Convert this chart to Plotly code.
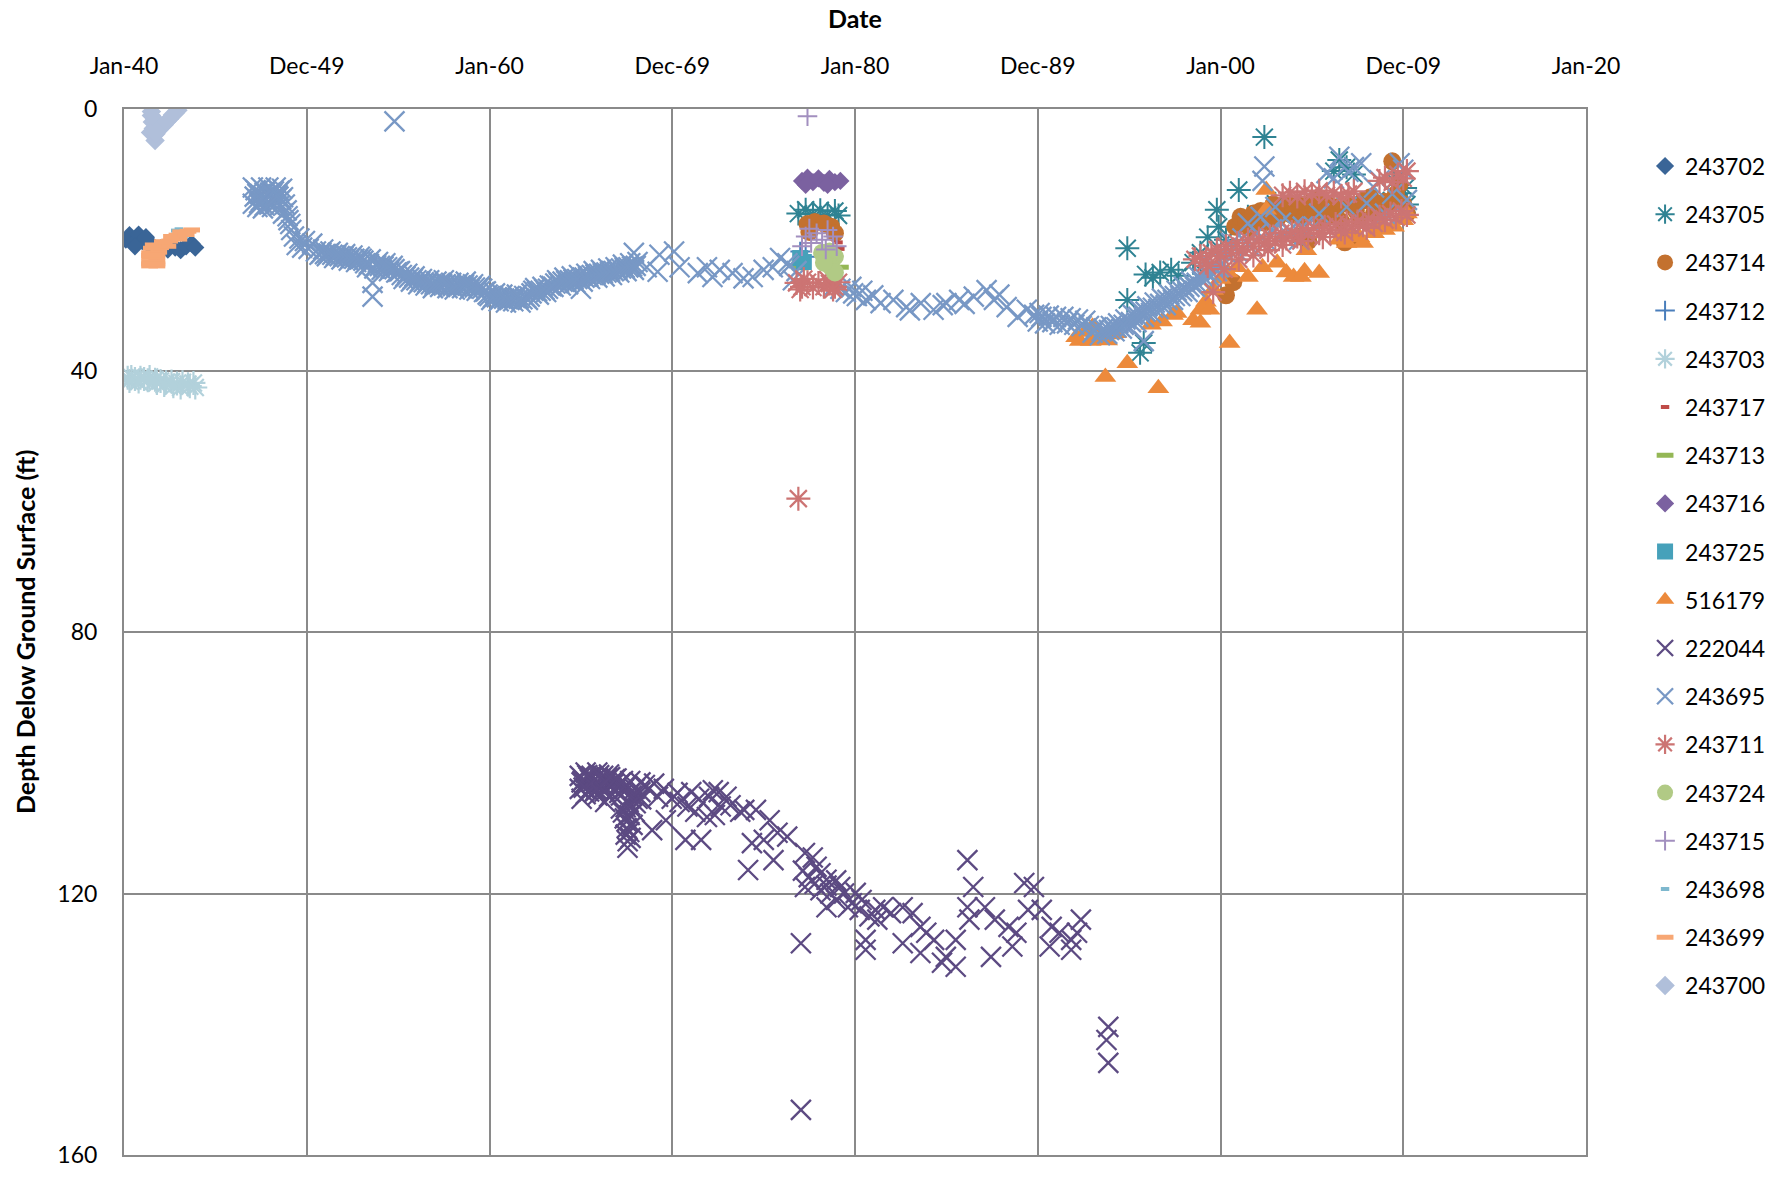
import pandas as pd
import plotly.graph_objects as go

# ---- Axis ticks (date axis, labels every 3652.5 days from Jan 1940) ----
tick_labels = ["Jan-40", "Dec-49", "Jan-60", "Dec-69", "Jan-80", "Dec-89", "Jan-00", "Dec-09", "Jan-20"]
depth_ticks = [0, 40, 80, 120, 160]

# ---- Well observations: decimal year of measurement, depth below ground (ft) ----
w243702_yr = [1940.1, 1940.3, 1940.5, 1940.8, 1941.0, 1941.3, 1941.6, 1942.0, 1942.4, 1942.8, 1943.1, 1943.4, 1943.7, 1943.9, 1940.6, 1941.2]
w243702_ft = [20.0, 19.3, 20.5, 19.2, 20.2, 20.6, 21.0, 21.3, 21.5, 21.2, 21.6, 21.0, 20.6, 21.2, 21.0, 19.6]

w243705_yr = [1976.9, 1977.3, 1977.7, 1978.1, 1978.5, 1978.9, 1979.1,
              1994.9, 1994.9, 1995.6, 1995.8, 1995.9, 1996.3, 1996.7, 1997.3, 1997.7, 1998.5, 1998.9, 1999.3, 1999.8, 1999.9,
              2000.3, 2001.0, 2001.5, 2002.4, 2003.0, 2006.2, 2006.5, 2006.9, 2007.3, 2008.5, 2009.5, 2009.8, 2010.1, 2010.2]
w243705_ft = [16.0, 15.4, 16.1, 15.5, 16.2, 15.6, 16.3,
              21.3, 29.2, 37.3, 35.8, 25.3, 25.8, 25.0, 24.6, 25.5, 23.5, 22.0, 19.6, 15.4, 18.0,
              20.0, 12.4, 16.5, 4.3, 14.5, 9.5, 7.8, 8.9, 10.0, 14.0, 11.0, 12.9, 12.1, 14.6]

w243714_yr = [1977.4, 1977.8, 1978.3, 1978.7, 1978.9, 1977.5,
              2000.3, 2000.7, 2000.8, 2001.1, 2001.4, 2001.8, 2002.2, 2002.6, 2002.9, 2003.3, 2003.7, 2004.0, 2004.4,
              2004.3, 2004.8, 2005.0, 2005.4, 2005.8, 2006.1, 2006.4, 2006.8, 2007.2, 2007.0, 2007.4, 2007.8, 2008.2,
              2008.6, 2009.0, 2009.4, 2009.6, 2010.0, 2010.2, 2009.8,
              2001.6, 2002.4, 2003.1, 2003.9, 2004.6, 2005.2, 2005.6, 2006.0, 2006.6, 2007.6, 2008.4, 2008.9, 2009.3]
w243714_ft = [17.6, 17.3, 17.5, 18.0, 19.0, 18.8,
              28.5, 26.5, 18.0, 16.5, 17.2, 16.0, 15.6, 16.5, 14.6, 15.3, 14.6, 15.5, 14.8,
              19.5, 20.2, 14.2, 13.6, 14.5, 15.6, 15.0, 20.4, 19.8, 14.5, 15.5, 14.0, 13.5,
              15.2, 14.2, 8.0, 13.0, 14.5, 16.0, 11.5,
              18.2, 17.4, 16.8, 16.2, 16.6, 15.8, 17.0, 16.4, 17.2, 16.8, 16.0, 15.6, 14.6]

w243712_yr = [1977.0, 1977.3]
w243712_ft = [21.8, 22.6]

w243703_yr = [1940.2, 1940.4, 1940.6, 1940.9, 1941.1, 1941.4, 1941.7, 1942.0, 1942.3, 1942.6, 1942.9, 1943.2, 1943.5, 1943.8,
              1940.3, 1940.8, 1941.3, 1941.8, 1942.2, 1942.7, 1943.1, 1943.6, 1943.9]
w243703_ft = [41.1, 41.0, 41.3, 41.1, 41.3, 41.0, 41.4, 41.6, 41.8, 41.7, 42.0, 41.8, 42.1, 41.9,
              41.6, 41.7, 41.5, 41.9, 42.2, 42.4, 42.6, 42.4, 42.6]

w243717_yr = [1979.1, 1979.2]
w243717_ft = [20.4, 21.4]

w243713_yr = [1977.0, 1977.0, 1979.2]
w243713_ft = [23.6, 24.3, 24.2]

w243716_yr = [1977.1, 1977.4, 1977.7, 1978.0, 1978.3, 1978.6, 1978.9, 1979.2, 1977.3, 1978.5]
w243716_ft = [11.0, 10.5, 11.2, 10.6, 11.3, 10.7, 11.2, 11.0, 11.6, 11.6]

w243725_yr = [1977.0, 1977.2]
w243725_ft = [22.8, 23.4]

w516179_yr = [1992.1, 1992.3, 1992.6, 1992.9, 1993.0, 1993.4, 1993.7, 1993.8, 1994.0, 1994.3, 1994.9, 1996.2, 1996.6, 1996.8,
              1997.4, 1997.6, 1998.5, 1998.9, 1998.9, 1999.2, 1999.4, 1999.6, 2000.0, 2000.4, 2000.5, 2000.9, 2001.5,
              2002.0, 2002.3, 2002.5, 2002.5, 2003.1, 2003.6, 2004.0, 2004.4, 2004.6, 2004.7, 2005.4,
              2006.5, 2006.9, 2007.2, 2007.6, 2007.8, 2008.4, 2008.7, 2009.0, 2009.5, 2010.0, 2010.2]
w516179_ft = [34.9, 35.5, 34.1, 35.5, 33.3, 35.0, 41.0, 35.4, 34.5, 34.3, 38.9, 33.0, 42.7, 32.5,
              31.5, 31.2, 32.3, 30.7, 32.7, 29.5, 30.7, 27.7, 26.0, 25.0, 35.8, 24.2, 25.7,
              30.7, 24.2, 12.4, 15.4, 23.5, 25.0, 25.7, 25.7, 24.8, 21.6, 25.1,
              20.0, 20.5, 19.5, 19.6, 20.5, 19.0, 18.0, 18.5, 18.0, 17.0, 16.0]

w222044_yr = [1964.94, 1964.94, 1965.26, 1965.26, 1965.26, 1965.58, 1965.58, 1965.90, 1965.90, 1965.90, 1966.22, 1966.22,
              1966.54, 1966.54, 1966.54, 1966.86, 1966.86, 1967.19, 1967.19, 1967.19, 1967.40, 1967.51, 1967.72, 1967.61,
              1967.94, 1967.94, 1967.83, 1968.26, 1968.26, 1967.51, 1965.04, 1966.33,
              1965.04, 1965.42, 1965.74, 1966.06, 1966.38, 1966.70, 1967.03, 1967.35, 1967.67, 1967.56, 1967.78, 1968.10,
              1968.69, 1969.01, 1969.54, 1969.97, 1970.40, 1971.04, 1971.47, 1972.01, 1972.54, 1973.19, 1973.72, 1971.26,
              1972.33,
              1969.22, 1970.29, 1970.83, 1970.72, 1971.58, 1972.22, 1972.65, 1971.90, 1969.65, 1968.90, 1972.97, 1973.94,
              1974.58, 1975.33, 1974.36, 1975.01, 1975.76, 1976.29, 1975.54, 1974.15, 1977.26, 1977.90, 1978.11, 1978.44,
              1979.19, 1980.04, 1977.26, 1978.44, 1979.61, 1980.36, 1980.58, 1980.58, 1981.22, 1981.54, 1981.97, 1982.61,
              1982.61, 1983.15, 1983.58, 1983.90, 1983.58, 1984.33, 1984.97, 1985.51, 1984.76, 1985.51, 1986.26, 1986.15,
              1986.47, 1986.15, 1987.11, 1987.44, 1987.65, 1988.40, 1988.83, 1988.61, 1989.26, 1989.79, 1989.47, 1990.22,
              1990.76, 1991.19, 1991.83, 1992.36, 1992.15, 1990.65, 1991.83, 1993.86, 1993.76, 1993.86, 1977.04, 1977.04,
              1977.15, 1977.47, 1977.79, 1978.11, 1978.65, 1978.97, 1979.40, 1979.83, 1980.26, 1978.44, 1977.69, 1978.97,
              1980.79, 1981.11,
              1965.10, 1965.50, 1965.80, 1966.15, 1966.45, 1966.80, 1967.10, 1967.45, 1967.70, 1968.00,
              1965.15, 1965.35, 1965.45, 1965.65, 1965.85, 1966.00, 1966.30, 1966.60, 1966.95, 1967.30, 1967.50, 1967.65,
              1967.45, 1967.70, 1967.30, 1967.55, 1968.30, 1968.50]
w222044_ft = [102.0, 104.0, 101.5, 103.0, 104.8, 102.0, 103.8, 101.5, 103.2, 105.0, 102.0, 104.0,
              101.8, 103.5, 105.2, 102.5, 104.2, 103.0, 105.0, 107.0, 108.5, 110.0, 111.5, 106.0,
              104.0, 107.5, 109.5, 104.5, 103.0, 103.5, 105.5, 106.0,
              103.0, 102.2, 104.5, 102.5, 103.0, 104.8, 103.5, 104.0, 108.0, 112.0, 105.0, 105.5,
              104.0, 103.2, 104.0, 105.5, 106.0, 104.5, 105.5, 105.2, 104.5, 106.5, 107.5, 107.5,
              108.0,
              105.2, 104.6, 106.7, 111.8, 111.8, 104.2, 106.7, 108.3, 108.8, 110.3, 105.2, 107.2,
              107.2, 108.8, 112.3, 111.8, 110.7, 111.3, 114.9, 116.4, 113.8, 115.9, 116.9, 117.9,
              119.0, 119.9, 119.0, 122.1, 122.1, 121.0, 128.6, 127.1, 124.0, 122.1, 123.0, 122.1,
              127.6, 123.0, 125.1, 126.0, 129.1, 127.1, 129.7, 131.2, 130.6, 127.1, 124.0, 114.9,
              119.0, 122.1, 122.1, 129.7, 124.0, 125.1, 126.0, 128.1, 118.4, 119.0, 122.5, 122.5,
              125.1, 126.0, 127.1, 124.0, 126.0, 128.1, 128.6, 140.4, 142.4, 145.9, 127.6, 153.1,
              116.5, 117.5, 118.5, 119.5, 120.0, 121.0, 120.0, 121.5, 122.5, 118.8, 114.5, 118.0,
              123.5, 122.5,
              102.8, 102.6, 104.2, 103.4, 102.4, 103.2, 104.6, 106.8, 102.8, 106.2,
              103.8, 101.9, 104.4, 102.9, 104.0, 101.9, 104.4, 102.2, 102.4, 102.8, 109.0, 110.6,
              111.0, 106.5, 107.6, 113.0, 105.6, 103.4]

w243695_yr = [1947.05, 1947.05, 1947.3, 1947.3, 1947.5, 1947.5, 1947.7, 1947.7, 1947.9, 1947.9, 1948.1, 1948.1, 1948.3, 1948.3,
              1948.5, 1948.5, 1948.7, 1948.7, 1948.9, 1949.0, 1949.15,
              1947.15, 1947.45, 1947.8, 1948.2, 1948.45, 1948.65, 1948.0, 1947.6,
              1947.2, 1947.4, 1947.65, 1947.95, 1948.2, 1948.4, 1948.6, 1948.8, 1948.95, 1949.1,
              1949.3, 1949.45, 1949.6, 1949.75, 1949.9, 1950.1, 1950.3, 1950.5, 1950.7,
              1950.9, 1951.1, 1951.3, 1951.5, 1951.7, 1951.9, 1952.1, 1952.3, 1952.5, 1952.7, 1952.9,
              1953.1, 1953.3, 1953.5, 1953.7, 1953.9, 1954.1, 1954.3, 1954.5, 1954.7, 1954.9, 1953.6, 1953.6,
              1955.1, 1955.3, 1955.5, 1955.7, 1955.9, 1956.1, 1956.3,
              1956.5, 1956.7, 1956.9, 1957.1, 1957.3, 1957.5, 1957.7, 1957.9, 1958.1, 1958.3, 1958.5, 1958.7, 1958.9,
              1959.1, 1959.3, 1959.5, 1959.7,
              1959.9, 1960.1, 1960.3, 1960.5, 1960.7, 1960.9, 1961.1, 1961.3, 1961.5, 1961.7, 1961.9, 1962.1,
              1962.3, 1962.5, 1962.7, 1962.9, 1963.1, 1963.3,
              1963.5, 1963.7, 1963.9, 1964.1, 1964.3, 1964.5, 1964.7, 1964.9,
              1965.1, 1965.3, 1965.5, 1965.7, 1965.9, 1966.1, 1966.3, 1966.5, 1966.7, 1966.9, 1965.0,
              1967.1, 1967.3, 1967.5, 1967.7, 1967.9, 1968.1, 1954.8,
              1950.8, 1951.0, 1951.2, 1951.4, 1951.6, 1951.8, 1952.0, 1952.2, 1952.4, 1952.6, 1952.8, 1953.0,
              1953.2, 1953.4, 1953.8, 1954.0, 1954.2, 1954.4, 1954.6, 1954.8, 1955.0, 1955.2, 1955.4, 1955.6,
              1955.8, 1956.0, 1956.2, 1956.4, 1956.6, 1956.8, 1957.0, 1957.2, 1957.4, 1957.6, 1957.8, 1958.0,
              1958.2, 1958.4, 1958.6, 1958.8, 1959.0, 1959.2, 1959.4, 1959.6, 1959.8, 1960.0, 1960.2, 1960.4,
              1960.6, 1960.8, 1961.0, 1961.2, 1961.4, 1961.6, 1961.8, 1962.0, 1962.2, 1962.4, 1962.6, 1962.8,
              1963.0, 1963.2, 1963.4, 1963.6, 1963.8, 1964.0, 1964.2, 1964.4, 1964.6, 1964.8, 1965.2, 1965.4,
              1965.6, 1965.8, 1966.0, 1966.2, 1966.4, 1966.6, 1966.8, 1967.0, 1967.2, 1967.4, 1967.6, 1967.8,
              1968.0,
              1968.6, 1969.3, 1970.1, 1969.2, 1970.4, 1971.4, 1971.9, 1972.2, 1972.6, 1973.3, 1973.9, 1974.4, 1975.0,
              1975.5, 1975.9, 1976.3, 1976.6, 1967.9,
              1976.4, 1976.8, 1979.2, 1979.5, 1979.8, 1980.1, 1980.4,
              1978.8, 1979.9, 1980.6, 1981.4, 1982.1, 1982.8, 1983.6, 1984.3, 1985.0, 1985.7, 1986.5, 1987.2, 1987.6,
              1988.3, 1988.9, 1989.4, 1990.1, 1981.0, 1983.0, 1984.8, 1986.0, 1987.9,
              1989.8, 1990.0, 1990.2, 1990.4, 1990.6, 1990.8, 1991.0, 1991.2, 1991.4, 1991.6, 1991.8, 1992.0, 1992.2,
              1992.4, 1992.6,
              1992.8, 1993.0, 1993.2, 1993.4, 1993.6, 1993.8, 1994.0, 1994.2, 1994.4, 1994.6, 1994.8, 1995.0, 1995.2,
              1995.4, 1995.6, 1995.8, 1995.8, 1996.0, 1996.2, 1996.4, 1996.6, 1996.8, 1997.0, 1997.2, 1997.4, 1997.6,
              1997.8, 1998.0, 1998.2, 1998.4, 1998.6, 1998.8, 1999.0, 1999.2, 1999.4, 1999.6, 1999.8, 2000.0,
              1993.1, 1993.5, 1993.9, 1994.3, 1994.7, 1995.1, 1995.5, 1995.9, 1996.3, 1996.7, 1997.1, 1997.5,
              1997.9, 1998.3, 1998.7, 1999.1, 1999.5, 1999.9,
              2000.3, 2000.6, 2000.9, 2001.2, 2001.6, 2002.0, 2002.3, 2002.4, 2002.5, 2002.8, 2003.3, 2003.6, 2004.0,
              2004.3, 2004.5, 2005.1, 2005.4, 2005.8, 2006.2, 2006.5, 2006.9, 2007.0, 2007.3, 2007.7, 2008.0, 2008.4,
              2008.7, 2009.0, 2009.4, 2009.8, 2010.0, 2010.2, 2003.0, 2001.5, 2002.2]
w243695_ft = [12.0, 14.5, 13.0, 15.0, 12.0, 14.0, 12.8, 14.8, 12.0, 14.2, 13.0, 15.0, 12.0, 14.0,
              12.5, 14.8, 13.5, 16.0, 15.5, 17.0, 18.5,
              13.4, 13.0, 13.8, 14.0, 13.4, 12.2, 12.8, 15.2,
              12.4, 14.4, 13.4, 14.6, 12.6, 13.2, 13.8, 14.6, 16.4, 17.6,
              19.5, 20.8, 19.8, 21.2, 20.2, 21.4, 20.6, 21.8, 22.3,
              21.5, 22.5, 21.8, 22.8, 22.0, 23.0, 22.2, 23.2, 22.4, 23.4, 22.6,
              23.2, 24.2, 23.0, 24.4, 23.4, 24.6, 23.6, 24.8, 24.0, 25.0, 26.6, 28.7,
              24.8, 26.0, 25.2, 26.4, 25.6, 26.8, 26.0,
              27.0, 26.2, 27.4, 26.4, 27.2, 26.2, 27.4, 26.6, 27.6, 26.6, 27.4, 26.4, 27.6,
              26.8, 27.8, 27.0, 28.0,
              28.4, 29.2, 28.2, 29.4, 28.4, 29.6, 28.6, 29.4, 28.4, 29.6, 28.6, 29.2,
              28.2, 27.4, 28.4, 27.2, 28.0, 27.0,
              27.2, 26.2, 27.0, 25.8, 26.8, 25.6, 26.6, 25.4,
              26.4, 25.2, 26.0, 24.8, 25.8, 24.6, 25.6, 24.4, 25.4, 24.2, 27.5,
              25.0, 23.8, 24.8, 23.6, 24.6, 23.4, 1.9,
              22.0, 22.2, 22.1, 22.3, 22.4, 22.5, 22.6, 22.7, 22.8, 22.9, 23.0, 22.9,
              23.6, 23.7, 23.9, 24.0, 24.1, 24.2, 24.4, 24.5, 24.9, 25.4, 25.6, 25.8,
              26.0, 26.2, 26.4, 26.5, 26.6, 26.8, 26.9, 26.8, 26.7, 26.8, 27.0, 27.1,
              27.1, 27.0, 26.9, 27.0, 27.2, 27.3, 27.4, 27.5, 27.9, 28.6, 28.8, 28.8,
              28.9, 29.0, 29.1, 29.0, 28.9, 29.0, 29.1, 28.9, 28.7, 27.8, 27.9, 27.8,
              27.6, 27.5, 27.1, 26.7, 26.6, 26.4, 26.3, 26.2, 26.1, 26.0, 25.8, 25.6,
              25.4, 25.3, 25.2, 25.1, 25.0, 24.9, 24.8, 24.6, 24.4, 24.3, 24.2, 24.1,
              24.0,
              24.2, 22.3, 21.8, 24.9, 24.2, 25.1, 24.2, 25.7, 24.6, 25.1, 25.9, 25.7, 24.6,
              24.2, 22.8, 23.6, 26.2, 22.0,
              24.0, 24.8, 27.5, 28.0, 27.2, 28.6, 27.8,
              27.2, 28.2, 29.2, 29.7, 29.2, 30.3, 29.7, 30.7, 29.7, 29.2, 28.7, 27.7, 29.2,
              30.3, 31.8, 30.7, 31.2, 28.5, 30.8, 30.0, 29.8, 28.4,
              31.5, 32.5, 31.8, 32.8, 31.6, 32.6, 31.8, 33.0, 31.8, 32.8, 32.0, 33.0, 32.2,
              33.2, 32.4,
              33.2, 34.2, 33.4, 34.6, 33.6, 34.4, 33.2, 34.0, 32.8, 33.6, 32.2, 33.4, 31.5,
              32.6, 30.8, 35.5, 31.8, 30.2, 31.2, 29.6, 30.6, 29.0, 30.0, 28.4, 29.2, 27.8,
              28.6, 27.2, 28.0, 26.4, 27.2, 25.6, 26.4, 24.8, 25.6, 24.0, 24.8, 23.2,
              33.8, 34.0, 33.8, 33.4, 33.0, 32.6, 31.8, 31.0, 30.4, 29.8, 29.2, 28.6,
              27.9, 27.2, 26.6, 25.8, 25.0, 24.2,
              22.0, 20.5, 21.8, 19.8, 21.0, 19.0, 11.0, 8.8, 20.2, 18.4, 17.4, 19.0, 18.0,
              20.0, 18.0, 18.0, 16.0, 9.8, 10.6, 7.3, 15.0, 9.6, 8.9, 8.3, 14.4, 12.0,
              10.9, 16.0, 13.0, 8.3, 9.3, 13.9, 15.0, 17.5, 16.5]

w243711_yr = [1976.8, 1977.1, 1977.4, 1977.7, 1978.0, 1978.3, 1978.6, 1978.9, 1979.1, 1977.2, 1978.5, 1977.0, 1978.8, 1976.9,
              1998.6, 1998.9, 1999.2, 1999.5, 1999.6, 1999.8, 2000.0, 2000.3, 2000.6, 2000.9, 2001.2, 2001.5, 2001.8,
              2002.1, 2002.4, 2002.7, 2003.0, 2003.3, 2003.6, 2003.9, 2004.2, 2004.5, 2004.8, 2005.1, 2005.4, 2005.7,
              2006.0, 2006.3, 2006.6, 2006.9, 2007.2, 2007.5, 2007.8, 2008.1, 2008.4, 2008.7, 2009.0, 2009.3, 2009.6,
              2009.9, 2010.2,
              2003.4, 2003.8, 2004.2, 2004.6, 2005.0, 2005.4, 2005.8, 2006.2, 2006.6, 2007.0, 2007.3,
              2008.7, 2009.0, 2009.4, 2009.7, 2010.0, 2010.2, 1999.3, 2000.2, 2001.0,
              2001.8, 2002.6, 2003.4, 2004.4, 2005.6, 2006.8, 2008.0]
w243711_ft = [26.6, 27.2, 26.5, 27.3, 26.6, 27.2, 26.7, 27.2, 26.5, 26.0, 26.1, 27.6, 27.6, 59.6,
              23.0, 22.5, 23.5, 22.0, 28.0, 21.5, 22.5, 21.0, 22.0, 20.5, 21.5, 20.0, 21.0,
              19.8, 20.6, 19.5, 20.2, 19.0, 19.8, 18.8, 19.5, 18.5, 19.2, 18.2, 19.0, 18.0,
              18.6, 17.6, 18.4, 17.4, 18.0, 17.2, 17.8, 16.8, 17.5, 16.5, 17.0, 16.0, 16.6,
              15.6, 16.2,
              13.2, 12.8, 13.4, 12.6, 13.0, 12.5, 13.2, 12.8, 13.4, 13.0, 12.6,
              11.0, 10.5, 11.2, 10.0, 10.6, 9.5, 24.0, 24.5, 23.0,
              22.4, 21.6, 20.8, 20.2, 19.6, 18.9, 18.2]

w243724_yr = [1978.2, 1978.6, 1978.9, 1978.7, 1978.9, 1978.3]
w243724_ft = [22.0, 21.8, 22.6, 24.2, 25.0, 23.5]

w243715_yr = [1977.4, 1977.1, 1977.3, 1977.6, 1977.9, 1978.2, 1978.5, 1978.8, 1979.0, 1978.4, 1977.5]
w243715_ft = [1.1, 21.0, 19.5, 20.5, 19.0, 20.0, 18.5, 19.5, 21.0, 21.5, 18.3]

w243698_yr = [1942.8, 1943.0, 1942.6, 1943.3]
w243698_ft = [18.6, 18.4, 19.8, 19.4]

w243699_yr = [1941.4, 1941.8, 1941.4, 1941.8, 1941.4, 1941.8, 1941.4, 1941.9, 1941.5, 1942.0, 1942.2, 1942.5, 1942.7,
              1942.9, 1943.2, 1943.5, 1943.7, 1942.4, 1943.0, 1941.4, 1941.8, 1941.4, 1941.8, 1941.6, 1942.1,
              1942.6, 1943.1, 1943.4]
w243699_ft = [24.0, 24.0, 23.4, 23.3, 22.7, 22.6, 22.0, 21.9, 21.3, 21.2, 20.6, 20.2, 19.8,
              19.3, 19.0, 18.7, 18.5, 21.0, 19.9, 23.7, 23.7, 22.4, 22.3, 20.8, 20.3,
              19.5, 18.8, 19.2]

w243700_yr = [1941.5, 1941.55, 1941.6, 1941.65, 1941.7, 1941.5, 1941.9, 1942.2, 1942.5, 1942.8, 1942.95, 1941.7,
              1942.0, 1941.45, 1942.65, 1942.35, 1941.75]
w243700_ft = [1.0, 2.0, 3.0, 4.0, 4.8, 0.4, 3.2, 2.4, 1.5, 0.6, 0.2, 1.6,
              2.8, 3.6, 0.9, 1.9, 3.8]

BASE = pd.Timestamp("1940-01-01")


def to_dates(years):
    """Decimal years -> timestamps on the date axis."""
    return [BASE + pd.Timedelta(days=(y - 1940.0) * 365.25) for y in years]


tick_dates = [BASE + pd.Timedelta(days=3652.5 * k) for k in range(len(tick_labels))]

# name, years, depths, colour, symbol, size, outline width
series = [
    ("243702", w243702_yr, w243702_ft, "#3A6597", "diamond", 14, 0),
    ("243705", w243705_yr, w243705_ft, "#2F8393", "asterisk-open", 20, 2),
    ("243714", w243714_yr, w243714_ft, "#C3712F", "circle", 18, 0),
    ("243712", w243712_yr, w243712_ft, "#4A7EBB", "cross-thin-open", 14, 2),
    ("243703", w243703_yr, w243703_ft, "#B2D1DB", "asterisk-open", 20, 2.2),
    ("243717", w243717_yr, w243717_ft, "#BF4B48", "line-ew-open", 6, 4),
    ("243713", w243713_yr, w243713_ft, "#94B755", "line-ew-open", 12, 5),
    ("243716", w243716_yr, w243716_ft, "#7B61A0", "diamond", 14, 0),
    ("243725", w243725_yr, w243725_ft, "#46A1BA", "square", 16, 0),
    ("516179", w516179_yr, w516179_ft, "#EC8A3C", "triangle-up", 19, 0),
    ("222044", w222044_yr, w222044_ft, "#5C4A82", "x-thin-open", 20, 2.3),
    ("243695", w243695_yr, w243695_ft, "#7898C5", "x-thin-open", 20, 2.3),
    ("243711", w243711_yr, w243711_ft, "#CC7473", "asterisk-open", 20, 2.2),
    ("243724", w243724_yr, w243724_ft, "#B1CA85", "circle", 18, 0),
    ("243715", w243715_yr, w243715_ft, "#A28FBF", "cross-thin-open", 14, 2),
    ("243698", w243698_yr, w243698_ft, "#7EB8CE", "line-ew-open", 6, 4),
    ("243699", w243699_yr, w243699_ft, "#F7A774", "line-ew-open", 12, 5),
    ("243700", w243700_yr, w243700_ft, "#B0BFDA", "diamond", 15, 0),
]

fig = go.Figure()
for name, yrs, fts, color, symbol, size, lw in series:
    marker = dict(symbol=symbol, size=size, color=color)
    if lw:
        marker["line"] = dict(color=color, width=lw)
    else:
        marker["line"] = dict(width=0)
    fig.add_trace(go.Scatter(
        x=to_dates(yrs), y=fts, mode="markers", name=name,
        legendgroup=name, marker=marker,
    ))

FONT = "Lato, 'Open Sans', sans-serif"
GRID = "#8A8A8A"

fig.update_layout(
    width=1783, height=1181,
    margin=dict(l=124, r=197, t=109, b=26),
    paper_bgcolor="white", plot_bgcolor="white",
    font=dict(family=FONT, size=23, color="black"),
    showlegend=True,
    legend=dict(
        x=1.0404, xanchor="left", y=0.966, yanchor="top",
        font=dict(family=FONT, size=23, color="black"),
        tracegroupgap=15.3, itemwidth=30, bgcolor="rgba(0,0,0,0)",
    ),
    xaxis=dict(
        type="date", side="top",
        range=[BASE, tick_dates[-1]],
        tickmode="array", tickvals=tick_dates, ticktext=tick_labels,
        showgrid=True, gridcolor=GRID, gridwidth=2,
        showline=True, linecolor=GRID, linewidth=2, mirror=True,
        zeroline=False, ticks="", ticklabelstandoff=24,
        tickfont=dict(family=FONT, size=23, color="black"),
    ),
    yaxis=dict(
        range=[160, 0], tickmode="array", tickvals=depth_ticks,
        showgrid=True, gridcolor=GRID, gridwidth=2,
        showline=True, linecolor=GRID, linewidth=2, mirror=True,
        zeroline=False, ticks="", ticklabelstandoff=20,
        tickfont=dict(family=FONT, size=23, color="black"),
    ),
    annotations=[
        dict(text="<b>Date</b>", xref="paper", yref="paper", x=0.5, y=1.087,
             xanchor="center", yanchor="middle", showarrow=False,
             font=dict(family=FONT, size=25, color="black")),
        dict(text="<b>Depth Delow Ground Surface (ft)</b>", xref="paper", yref="paper",
             x=-0.0677, y=0.5, xanchor="center", yanchor="middle", textangle=-90,
             showarrow=False, font=dict(family=FONT, size=25, color="black")),
    ],
)

fig.write_html("out.html")
